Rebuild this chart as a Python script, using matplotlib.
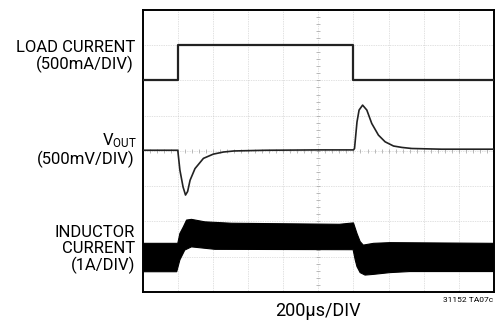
import numpy as np
import matplotlib.pyplot as plt

plt.rcParams['font.family'] = ['Roboto', 'DejaVu Sans']
plt.rcParams['mathtext.fontset'] = 'custom'
plt.rcParams['mathtext.rm'] = 'Roboto'

# scope traces, in divisions (x: 0..10, y: 0..8 from bottom)
load_t = [0, 1.0, 1.0, 6.0, 6.0, 10]
load_v = [6.0, 6.0, 7.0, 7.0, 6.0, 6.0]

vout_t = [0, 1.0, 1.06, 1.15, 1.22, 1.28, 1.35, 1.49, 1.73, 2.01, 2.3, 2.6, 3.5, 5.0, 6.0,
          6.03, 6.1, 6.16, 6.26, 6.38, 6.52, 6.71, 6.9, 7.14, 7.38, 7.66, 8.5, 10]
vout_v = [4.02, 4.02, 3.46, 2.98, 2.75, 2.85, 3.17, 3.5, 3.79, 3.91, 3.97, 4.0, 4.02, 4.03, 4.03,
          4.07, 4.82, 5.16, 5.3, 5.16, 4.78, 4.45, 4.26, 4.14, 4.1, 4.07, 4.05, 4.05]

ind_top_t = [0, 1.0, 1.06, 1.16, 1.25, 1.39, 1.77, 2.53, 5.6, 6.0, 6.1, 6.19, 6.28, 6.57, 7.04, 10]
ind_top_v = [1.38, 1.38, 1.66, 1.85, 2.04, 2.06, 1.99, 1.95, 1.92, 1.96, 1.66, 1.43, 1.33, 1.38, 1.4, 1.38]
ind_bot_t = [0, 0.97, 1.06, 1.2, 1.39, 2.06, 5.99, 6.05, 6.1, 6.19, 6.33, 6.57, 7.04, 7.6, 10]
ind_bot_v = [0.575, 0.575, 0.91, 1.19, 1.28, 1.21, 1.2, 0.91, 0.72, 0.55, 0.48, 0.5, 0.55, 0.58, 0.58]

fig = plt.figure(figsize=(4.97, 3.2), dpi=100)
ax = fig.add_axes([0.287, 0.0875, 0.707, 0.8815])
ax.set_xlim(0, 10)
ax.set_ylim(0, 8)

# graticule
for gx in range(1, 10):
    ax.axvline(gx, color='#c4c4c4', lw=0.5, ls=(0, (1, 1.5)), zorder=1)
for gy in range(1, 8):
    ax.axhline(gy, color='#c4c4c4', lw=0.5, ls=(0, (1, 1.5)), zorder=1)
mt = np.arange(0, 10.01, 0.2)
ax.plot(mt, [4] * len(mt), ls='none', marker='|', ms=3, mew=0.5, color='#a0a0a0', zorder=1)
mt = np.arange(0, 8.01, 0.2)
ax.plot([5] * len(mt), mt, ls='none', marker='_', ms=3, mew=0.5, color='#a0a0a0', zorder=1)

ax.plot(load_t, load_v, color='#222222', lw=1.6, zorder=3)
ax.plot(vout_t, vout_v, color='#222222', lw=1.2, zorder=3)
ax.fill(np.concatenate([ind_top_t, ind_bot_t[::-1]]),
        np.concatenate([ind_top_v, ind_bot_v[::-1]]),
        color='black', lw=0.8, zorder=3)

ax.set_xticks([])
ax.set_yticks([])
for s in ax.spines.values():
    s.set_linewidth(1.4)

def lab(x, y, s, size=12, ha='right'):
    fig.text(x / 497, 1 - y / 320, s, ha=ha, va='baseline', fontsize=size)

lab(135, 52.3, 'LOAD CURRENT')
lab(134, 69.3, '(500mA/DIV)')
lab(137, 145, r'$\mathregular{V_{OUT}}$')
lab(135, 164.3, '(500mV/DIV)')
lab(135, 236.7, 'INDUCTOR')
lab(135, 253.3, 'CURRENT')
lab(135, 270, '(1A/DIV)')
lab(318, 316.5, '200µs/DIV', size=13, ha='center')
lab(493, 301.7, '31152 TA07c', size=6)

fig.savefig('out.png', dpi=100)
